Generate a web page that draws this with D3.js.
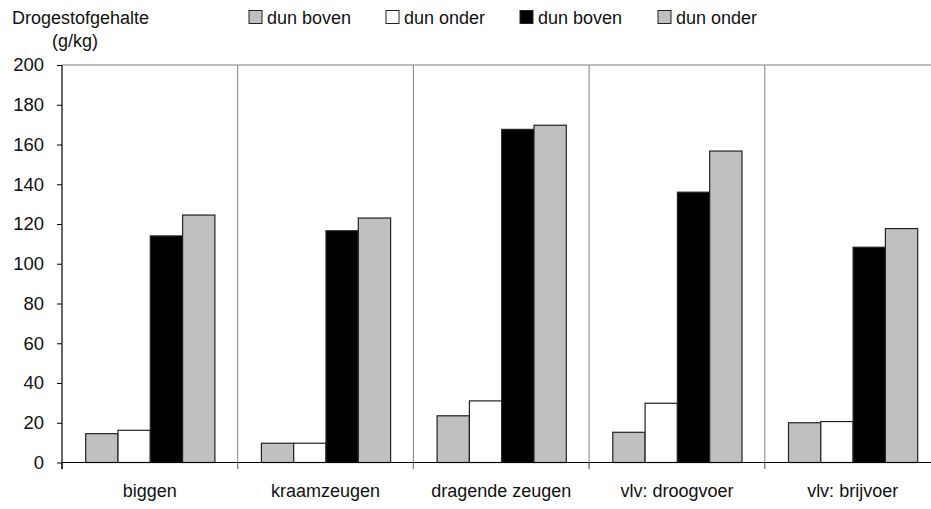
<!DOCTYPE html>
<html>
<head>
<meta charset="utf-8">
<script src="https://cdn.jsdelivr.net/npm/d3@7"></script>
<style>
  html, body { margin: 0; padding: 0; background: #fff; overflow: hidden; }
  svg { display: block; font-family: "Liberation Sans", Arial, sans-serif; }
</style>
</head>
<body>
<svg id="chart" width="931" height="509"></svg>
<script>
const categories = ["biggen", "kraamzeugen", "dragende zeugen", "vlv: droogvoer", "vlv: brijvoer"];
const seriesNames = ["dun boven", "dun onder", "dun boven", "dun onder"];
const seriesColors = ["#c0c0c0", "#ffffff", "#000000", "#c0c0c0"];
const grayBoven  = [14.5, 9.7, 23.5, 15.2, 20];
const whiteOnder = [16.2, 9.7, 31, 29.8, 20.6];
const blackBoven = [114, 116.6, 167.6, 136, 108.3];
const grayOnder  = [124.5, 123, 169.7, 156.7, 117.7];
const yTicks = [0, 20, 40, 60, 80, 100, 120, 140, 160, 180, 200];

const seriesValues = [grayBoven, whiteOnder, blackBoven, grayOnder];

(function () {
const svg = d3.select("#chart");
const left = 62, plotTop = 65, bottom = 462.5, catW = 175.7;
const fs = 18;

const x0 = d3.scaleBand().domain(categories).range([left, left + catW * categories.length]).padding(0);
const x1 = d3.scaleBand().domain(d3.range(seriesNames.length)).range([23.7, 23.7 + 4 * 32.3]).padding(0);
const y = d3.scaleLinear().domain([0, 200]).range([bottom, plotTop]);

// top border
svg.append("line").attr("x1", left).attr("x2", 931).attr("y1", y(200)).attr("y2", y(200))
  .attr("stroke", "#808080").attr("stroke-width", 1);

// category separators
categories.forEach((c, i) => {
  if (i === 0) return;
  svg.append("line").attr("x1", x0(c)).attr("x2", x0(c)).attr("y1", y(200)).attr("y2", bottom + 6.5)
    .attr("stroke", "#808080").attr("stroke-width", 1);
});

// bars
const g = svg.append("g");
categories.forEach((c, ci) => {
  seriesValues.forEach((vals, si) => {
    g.append("rect")
      .attr("x", x0(c) + x1(si))
      .attr("y", y(vals[ci]))
      .attr("width", x1.bandwidth())
      .attr("height", bottom - y(vals[ci]))
      .attr("fill", seriesColors[si])
      .attr("stroke", "#222")
      .attr("stroke-width", 1.2);
  });
});

// x axis
svg.append("line").attr("x1", left).attr("x2", 931).attr("y1", bottom).attr("y2", bottom)
  .attr("stroke", "#000").attr("stroke-width", 1.2);
categories.forEach((c, i) => {
  svg.append("line").attr("x1", x0(c)).attr("x2", x0(c)).attr("y1", bottom).attr("y2", bottom + 6.5)
    .attr("stroke", i === 0 ? "#000" : "#808080").attr("stroke-width", 1);
  svg.append("text").attr("x", x0(c) + x0.bandwidth() / 2).attr("y", 497)
    .attr("text-anchor", "middle").attr("font-size", fs).attr("fill", "#111").text(c);
});

// y axis
const yAxis = d3.axisLeft(y).tickValues(yTicks).tickSize(5).tickPadding(13).tickSizeOuter(0);
const ya = svg.append("g").attr("transform", `translate(${left},0)`).call(yAxis);
ya.select(".domain").remove();
ya.selectAll(".tick line").attr("stroke", "#000");
ya.selectAll(".tick text").attr("font-size", 18.5).attr("fill", "#111")
  .attr("font-family", "Liberation Sans, Arial, sans-serif");
svg.append("line").attr("x1", left).attr("x2", left).attr("y1", y(200)).attr("y2", bottom + 6.5)
  .attr("stroke", "#000").attr("stroke-width", 1.2);

// y axis title
svg.append("text").attr("x", 12).attr("y", 24).attr("font-size", fs).attr("fill", "#111").text("Drogestofgehalte");
svg.append("text").attr("x", 52).attr("y", 47).attr("font-size", fs).attr("fill", "#111").text("(g/kg)");

// legend
const legendX = [249, 386, 520, 658];
seriesNames.forEach((n, i) => {
  svg.append("rect").attr("x", legendX[i]).attr("y", 10.5).attr("width", 13).attr("height", 13)
    .attr("fill", seriesColors[i]).attr("stroke", "#222").attr("stroke-width", 1);
  svg.append("text").attr("x", legendX[i] + 18).attr("y", 24).attr("font-size", fs).attr("fill", "#111").text(n);
});
})();
</script>
</body>
</html>
